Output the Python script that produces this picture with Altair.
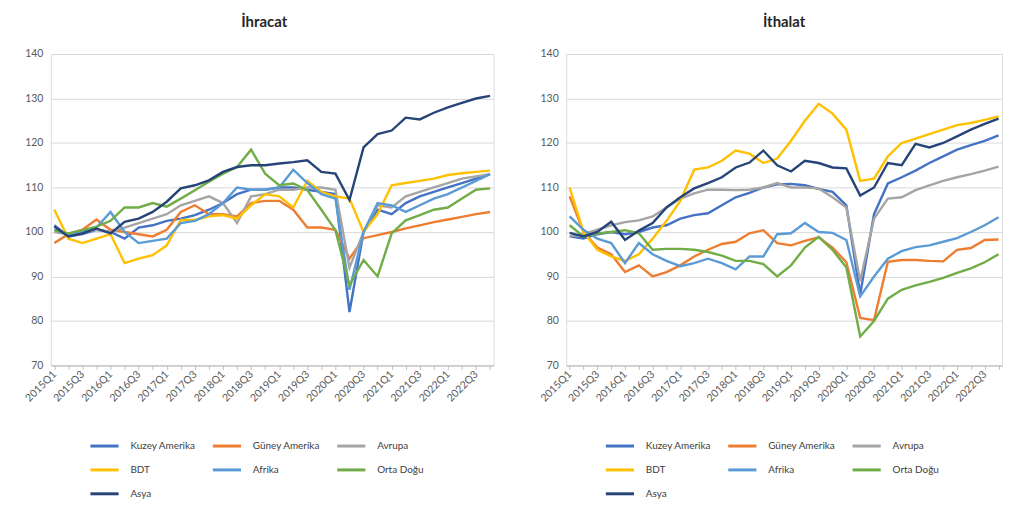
import altair as alt
import pandas as pd

quarters = [f"{y}Q{q}" for y in range(2015, 2023) for q in range(1, 5)]
regions = ["Kuzey Amerika", "Güney Amerika", "Avrupa", "BDT", "Afrika", "Orta Doğu", "Asya"]
colors = ["#4472C4", "#ED7D31", "#A5A5A5", "#FFC000", "#5B9BD5", "#70AD47", "#264478"]

# İhracat (exports)
exp_kuzey_amerika = [101.5, 99, 99.5, 100.5, 100, 98.5, 101, 101.5, 102.5, 103, 103.8, 105, 106.5, 108.5, 109.5, 109.5,
                     110, 110, 109.5, 109, 108.5, 82, 100, 105, 104, 106.5, 108, 109, 110, 111, 112, 113]
exp_guney_amerika = [97.5, 99.5, 100.5, 102.8, 100.5, 100, 99.5, 99, 100.5, 104.5, 106, 104, 104, 103.5, 106.5, 107,
                     107, 105, 101, 101, 100.5, 94, 98.6, 99.3, 100, 100.8, 101.5, 102.2, 102.8, 103.4, 104, 104.5]
exp_avrupa = [100, 99.5, 100, 100.5, 100, 101, 102, 103, 104, 106, 107, 108, 106.5, 102, 108, 108.5,
              109.5, 109.5, 110, 110, 109.5, 92, 100, 106, 105.5, 108, 109, 110, 111, 112, 112.5, 113]
exp_bdt = [105, 98.5, 97.5, 98.5, 99.5, 93, 94, 94.8, 97, 102.7, 102.7, 103.5, 103.8, 103, 106, 108.5,
           108, 105.5, 111.5, 109, 108, 107.5, 100, 104, 110.5, 111, 111.5, 112, 112.8, 113.2, 113.5, 113.8]
exp_afrika = [100.5, 99.5, 100, 101, 104.5, 100, 97.5, 98, 98.5, 102, 102.5, 104, 106.5, 110, 109.5, 109.5,
              110, 114, 111, 108.5, 107.5, 87, 100, 106.5, 106, 104.5, 106, 107.5, 108.5, 110, 111.5, 113]
exp_orta_dogu = [100.4, 99.7, 100.4, 101.2, 102.5, 105.5, 105.5, 106.5, 105.7, 107.5, 109.4, 111.3, 113.1, 114.6, 118.5, 113.1,
                 110.5, 110.9, 109.4, 105, 100.4, 88, 93.7, 90, 99.7, 102.6, 103.8, 105, 105.5, 107.5, 109.5, 109.8]
exp_asya = [101.2, 99, 99.7, 100.8, 99.7, 102.3, 103, 104.5, 106.8, 109.8, 110.5, 111.6, 113.5, 114.6, 115, 115,
            115.4, 115.7, 116.1, 113.5, 113.1, 107.2, 119, 122, 122.8, 125.7, 125.3, 126.8, 128, 129, 130, 130.6]

# İthalat (imports)
imp_kuzey_amerika = [99, 98.5, 99.5, 100, 99.5, 100, 101, 101.5, 103, 103.8, 104.2, 106, 107.8, 108.8, 110, 110.7,
                     110.8, 110.5, 109.7, 109, 106, 86, 104, 110.9, 112.3, 113.8, 115.5, 117, 118.5, 119.5, 120.5, 121.7]
imp_guney_amerika = [108, 100, 96.5, 95, 91, 92.5, 90, 91, 92.5, 94.5, 96, 97.3, 97.8, 99.7, 100.4, 97.5,
                     97, 98, 98.8, 96.5, 93.2, 80.7, 80.2, 93.3, 93.7, 93.7, 93.5, 93.4, 96, 96.4, 98.2, 98.3]
imp_avrupa = [99, 99.5, 100.5, 101.5, 102.2, 102.6, 103.5, 105.5, 107.5, 108.7, 109.5, 109.5, 109.4, 109.5, 110, 111,
              110, 110, 109.8, 107.8, 105.5, 89, 103, 107.5, 107.8, 109.4, 110.5, 111.5, 112.3, 113, 113.8, 114.7]
imp_bdt = [110, 100, 96, 94.5, 93.5, 95, 98.5, 102.5, 107, 114, 114.5, 116, 118.3, 117.6, 115.5, 116.5,
           120.5, 125, 128.8, 126.6, 123, 111.5, 112, 117, 120, 121, 122, 123, 124, 124.5, 125.2, 126]
imp_afrika = [103.5, 100.5, 98.5, 97.5, 93, 97.5, 95, 93.5, 92.3, 93, 94, 93, 91.6, 94.5, 94.5, 99.5,
              99.7, 102, 100, 99.8, 98.2, 85.5, 90, 94, 95.7, 96.6, 97, 97.8, 98.6, 100, 101.5, 103.3]
imp_orta_dogu = [101.5, 99, 99.7, 100, 100.4, 99.7, 96, 96.2, 96.2, 96, 95.5, 94.7, 93.5, 93.5, 92.8, 90,
                 92.5, 96.5, 98.9, 96, 92, 76.5, 80, 85, 87, 88, 88.8, 89.7, 90.8, 91.8, 93.2, 95]
imp_asya = [99.8, 99, 100, 102.3, 98.2, 100.3, 102, 105.5, 107.8, 109.8, 111, 112.3, 114.5, 115.6, 118.3, 115,
            113.6, 116, 115.5, 114.5, 114.3, 108.2, 110, 115.5, 115, 119.8, 119, 120, 121.5, 123, 124.3, 125.5]

y_ticks = [70, 80, 90, 100, 110, 120, 130, 140]
FONT = "Lato"


def long_frame(series_list):
    rows = []
    for name, vals in zip(regions, series_list):
        for q, v in zip(quarters, vals):
            rows.append({"Çeyrek": q, "Bölge": name, "Endeks": v})
    return pd.DataFrame(rows)


exp_df = long_frame([exp_kuzey_amerika, exp_guney_amerika, exp_avrupa, exp_bdt, exp_afrika, exp_orta_dogu, exp_asya])
imp_df = long_frame([imp_kuzey_amerika, imp_guney_amerika, imp_avrupa, imp_bdt, imp_afrika, imp_orta_dogu, imp_asya])


def panel(df, title, width, title_dx):
    return alt.Chart(df).mark_line(strokeWidth=2.4).encode(
        x=alt.X("Çeyrek:O", sort=quarters, title=None,
                scale=alt.Scale(type="point", padding=0.25),
                axis=alt.Axis(labelAngle=315, labelAlign="right", labelBaseline="middle",
                              labelExpr="(indexof(datum.label,'Q1')>=0 || indexof(datum.label,'Q3')>=0) ? datum.label : ''",
                              labelFontSize=10.5, labelColor="#595959", labelPadding=3,
                              tickSize=4, tickColor="#BFBFBF", domainColor="#BFBFBF", grid=False,
                              labelFont=FONT)),
        y=alt.Y("Endeks:Q", title=None, scale=alt.Scale(domain=[70, 140], nice=False, zero=False),
                axis=alt.Axis(values=y_ticks, domain=False, ticks=False, labelPadding=8, labelFontSize=10.5,
                              labelColor="#595959", gridColor="#D9D9D9", minExtent=37, labelFont=FONT)),
        color=alt.Color("Bölge:N", sort=regions,
                        scale=alt.Scale(domain=regions, range=colors),
                        legend=alt.Legend(title=None, orient="none", legendX=38, legendY=378, columns=3,
                                          direction="horizontal", symbolType="stroke", symbolSize=800,
                                          symbolStrokeWidth=3, labelOffset=10, columnPadding=10, rowPadding=2,
                                          labelFontSize=10, labelColor="#404040", labelFont=FONT)),
        order=alt.Order("Çeyrek:O"),
    ).properties(
        width=width, height=313,
        title=alt.TitleParams(title, fontSize=15, fontWeight="bold", font=FONT, color="#262626",
                              offset=19, dx=title_dx)
    )


left = panel(exp_df, "İhracat", 445, -8)
right = panel(imp_df, "İthalat", 438, 0)

chart = alt.hconcat(left, right, spacing=33).resolve_scale(color="independent").properties(
    padding={"left": 5, "top": 5, "right": 0, "bottom": 0}
).configure_view(stroke=None).configure(background="white")

chart.save("out.html", embed_options={"renderer": "svg", "actions": False})
